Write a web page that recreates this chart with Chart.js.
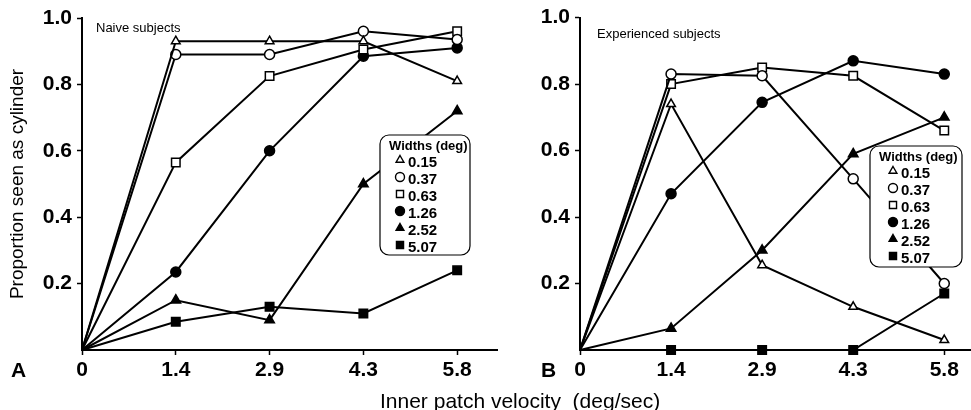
<!DOCTYPE html>
<html>
<head>
<meta charset="utf-8">
<script src="https://cdn.jsdelivr.net/npm/chart.js@4.4.1/dist/chart.umd.min.js"></script>
<style>
    html, body { margin: 0; padding: 0; background: #fff; }
    body { width: 971px; height: 410px; position: relative; overflow: hidden; font-family: "Liberation Sans", Arial, sans-serif; color: #000; }
    canvas { position: absolute; top: 0; }
    #chartA { left: 0; }
    #chartB { left: 490px; }
    .txt { position: absolute; white-space: pre; line-height: 1; }
    .sub { font-size: 13px; }
    .panel { font-size: 21px; font-weight: bold; }
</style>
</head>
<body>
<canvas id="chartA" width="505" height="385"></canvas>
<canvas id="chartB" width="490" height="385"></canvas>
<div class="txt sub" style="left:96px; top:21px;">Naive subjects</div>
<div class="txt sub" style="left:597px; top:27px;">Experienced subjects</div>
<div class="txt panel" style="left:11px; top:359px;">A</div>
<div class="txt panel" style="left:541px; top:359px;">B</div>
<div class="txt" style="left:380px; top:390px; font-size:21px;">Inner patch velocity  (deg/sec)</div>
<script>
const FONT = "\"Liberation Sans\", Arial, sans-serif";

const velocities = ["0", "1.4", "2.9", "4.3", "5.8"];
const widths = ["0.15", "0.37", "0.63", "1.26", "2.52", "5.07"];
const yTicks = [0.2, 0.4, 0.6, 0.8, 1.0];

// naive subjects (A)
const naive015 = [0, 0.93, 0.93, 0.93, 0.81];
const naive037 = [0, 0.89, 0.89, 0.96, 0.935];
const naive063 = [0, 0.565, 0.825, 0.905, 0.96];
const naive126 = [0, 0.235, 0.60, 0.885, 0.91];
const naive252 = [0, 0.15, 0.09, 0.50, 0.72];
const naive507 = [0, 0.085, 0.13, 0.11, 0.24];

// experienced subjects (B)
const exp015 = [0, 0.74, 0.255, 0.13, 0.03];
const exp037 = [0, 0.83, 0.825, 0.515, 0.20];
const exp063 = [0, 0.80, 0.85, 0.825, 0.66];
const exp126 = [0, 0.47, 0.745, 0.87, 0.83];
const exp252 = [0, 0.065, 0.30, 0.59, 0.70];
const exp507 = [0, 0, 0, 0, 0.17];

// marker look for each width, same order as widths
const markers = [
    { style: "triangle", fill: "#fff", r: 5, lr: 4.5 },
    { style: "circle", fill: "#fff", r: 5, lr: 4.5 },
    { style: "rect", fill: "#fff", r: 6, lr: 5 },
    { style: "circle", fill: "#000", r: 5, lr: 4.5 },
    { style: "triangle", fill: "#000", r: 5.5, lr: 4.5 },
    { style: "rect", fill: "#000", r: 6, lr: 5 }
];

const widthsLegend = {
    id: "widthsLegend",
    afterDraw(chart, args, opts) {
        const ctx = chart.ctx;
        ctx.save();
        ctx.beginPath();
        ctx.roundRect(opts.x, opts.y, opts.w, opts.h, 9);
        ctx.fillStyle = "#fff";
        ctx.fill();
        ctx.lineWidth = 1.2;
        ctx.strokeStyle = "#000";
        ctx.stroke();
        ctx.textBaseline = "middle";
        ctx.fillStyle = "#000";
        ctx.font = "bold 13px " + FONT;
        ctx.fillText("Widths (deg)", opts.x + 9, opts.y + 11);
        chart.data.datasets.forEach((ds, i) => {
            const cy = opts.y + 28 + i * 17;
            const m = markers[i];
            ctx.fillStyle = m.fill;
            ctx.strokeStyle = "#000";
            ctx.lineWidth = 1.4;
            Chart.helpers.drawPoint(ctx, { pointStyle: m.style, radius: m.lr, borderWidth: 1.4, rotation: 0 }, opts.x + opts.mx, cy - 3);
            ctx.fillStyle = "#000";
            ctx.font = "bold 15px " + FONT;
            ctx.fillText(ds.label, opts.x + opts.mx + 8, cy);
        });
        ctx.restore();
    }
};

function makeDatasets(series) {
    return series.map((values, i) => {
        const m = markers[i];
        return {
            label: widths[i],
            data: values.map((v, k) => ({ x: k, y: v })),
            borderColor: "#000",
            borderWidth: 2,
            pointStyle: m.style,
            pointRadius: values.map((v, k) => (k === 0 ? 0 : m.r)),
            pointBackgroundColor: m.fill,
            pointBorderColor: "#000",
            pointBorderWidth: 1.5,
            tension: 0,
            clip: false
        };
    });
}

function makePanel(id, series, p) {
    const yScale = {
        min: 0,
        max: 1,
        afterBuildTicks: s => { s.ticks = yTicks.map(v => ({ value: v })); },
        afterFit: s => { s.width = p.yWidth; },
        grid: { drawOnChartArea: false, drawTicks: true, tickLength: 5, tickWidth: 1.5, tickColor: "#000" },
        border: { color: "#000", width: 2 },
        ticks: {
            color: "#000",
            padding: 5,
            font: { family: FONT, size: 21, weight: "bold" },
            callback: v => v.toFixed(1)
        }
    };
    if (p.yTitle) {
        yScale.title = {
            display: true,
            text: p.yTitle,
            color: "#000",
            font: { family: FONT, size: 19 },
            padding: { top: 6, bottom: 0 }
        };
    }

    new Chart(document.getElementById(id), {
        type: "line",
        data: { datasets: makeDatasets(series) },
        plugins: [widthsLegend],
        options: {
            responsive: false,
            animation: false,
            layout: { padding: { top: p.top, right: 0, left: 0, bottom: 0 } },
            plugins: {
                legend: { display: false },
                tooltip: { enabled: false },
                widthsLegend: p.legend
            },
            scales: {
                x: {
                    type: "linear",
                    min: 0,
                    max: p.xMax,
                    afterBuildTicks: s => { s.ticks = velocities.map((_, k) => ({ value: k })); },
                    afterFit: s => { s.height = 35; },
                    grid: { drawOnChartArea: false, drawTicks: true, tickLength: 5, tickWidth: 1.5, tickColor: "#000" },
                    border: { color: "#000", width: 2 },
                    ticks: {
                        color: "#000",
                        padding: 3,
                        maxRotation: 0,
                        autoSkip: false,
                        font: { family: FONT, size: 21, weight: "bold" },
                        callback: v => velocities[v]
                    }
                },
                y: yScale
            }
        }
    });
}

makePanel("chartA", [naive015, naive037, naive063, naive126, naive252, naive507], {
    yWidth: 82,
    top: 18,
    xMax: 4.43,
    yTitle: "Proportion seen as cylinder",
    legend: { x: 380, y: 135, w: 90, h: 120, mx: 20 }
});

makePanel("chartB", [exp015, exp037, exp063, exp126, exp252, exp507], {
    yWidth: 90,
    top: 16,
    xMax: 4.31,
    legend: { x: 380, y: 146, w: 92, h: 121, mx: 23 }
});
</script>
</body>
</html>
